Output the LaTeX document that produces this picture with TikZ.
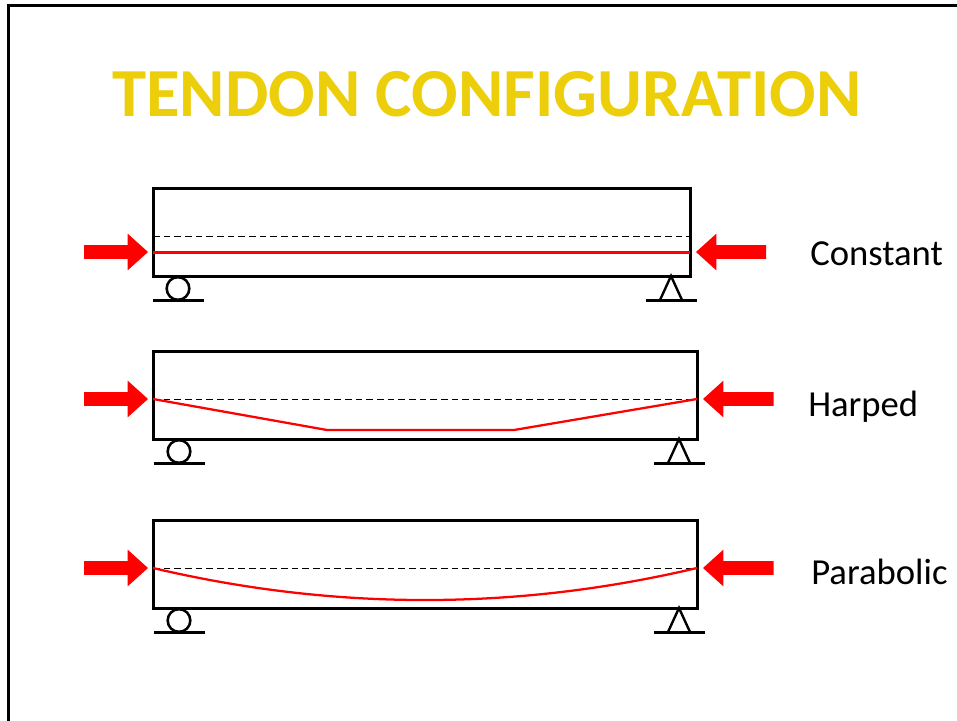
\documentclass[tikz,border=0pt]{standalone}
\usepackage{fontspec}
\setmainfont{Carlito}
\usetikzlibrary{shapes.arrows}
\definecolor{titleyellow}{RGB}{237,206,11}
\tikzset{
  beamnode/.style={draw,line width=2.25pt,rectangle,inner sep=0pt,outer sep=0pt,minimum height=66pt},
  forcenode/.style={single arrow,fill=red,anchor=tip,inner xsep=0pt,inner ysep=5pt,outer sep=0pt,minimum height=48pt,
    single arrow head extend=8.6pt,single arrow tip angle=84,single arrow head indent=0pt},
  rollernode/.style={draw,circle,line width=1.9pt,inner sep=0pt,outer sep=0pt,minimum size=17pt},
  ground/.style={line width=2.1pt},
  tendon/.style={red,line width=1.7pt},
  midline/.style={black,line width=0.7pt,dash pattern=on 5pt off 3pt},
  caption/.style={font=\fontsize{27.5}{33}\selectfont,text=black,anchor=base west,inner sep=0pt}
}
\begin{document}
\begin{tikzpicture}[x=0.75pt,y=-0.75pt]
  \useasboundingbox (0,0) rectangle (957,721);

  % Draw frame
  \draw[line width=2.2pt] (8.5,721) -- (8.5,5.5) -- (957,5.5);

  % Title
  \node[font=\fontsize{51.6}{60}\selectfont\bfseries,text=titleyellow,inner sep=0pt,anchor=base] (title) at (487,116) {TENDON CONFIGURATION};

  % Draw beams
  \node[beamnode,minimum width=402.75pt] (beamA) at (421.5,232) {};
  \node[beamnode,minimum width=408pt] (beamB) at (425,395) {};
  \node[beamnode,minimum width=408pt] (beamC) at (425,564) {};

  % Draw centre lines
  \draw[midline] (beamA.west |- 0,236) -- (beamA.east |- 0,236);
  \draw[midline] (beamB.west |- 0,399) -- (beamB.east |- 0,399);
  \draw[midline] (beamC.west |- 0,568) -- (beamC.east |- 0,568);

  % Draw tendons
  \coordinate (harpL) at (327,430);
  \coordinate (harpR) at (514,430);
  \draw[tendon,line width=2.25pt] (beamA.west |- 0,252) -- (beamA.east |- 0,252);
  \draw[tendon] (beamB.west |- 0,399) -- (harpL) -- (harpR) -- (beamB.east |- 0,399);
  \draw[tendon] (beamC.west |- 0,568) .. controls (334,610.7) and (516,610.7) .. (beamC.east |- 0,568);

  % Draw forces
  \node[forcenode] (forceAl) at (148,252) {};
  \node[forcenode,shape border rotate=180,minimum height=52.5pt] (forceAr) at (696,252) {};
  \node[forcenode] (forceBl) at (148,399) {};
  \node[forcenode,shape border rotate=180,minimum height=53pt] (forceBr) at (703,399) {};
  \node[forcenode] (forceCl) at (148,568) {};
  \node[forcenode,shape border rotate=180,minimum height=53pt] (forceCr) at (703,568) {};

  % Draw supports
  \foreach \n/\xr/\xp/\yb in {A/178/671/276,B/179/679/439,C/179/679/608} {
    \node[rollernode] (roller\n) at (\xr,\yb+12.5) {};
    \draw[ground] (\xr-25,\yb+24.5) -- (\xr+26,\yb+24.5);
    \draw[ground] (\xp-25,\yb+24.5) -- (\xp+26,\yb+24.5);
    \draw[line width=1.8pt,line join=miter] (\xp-11,\yb+24) -- (\xp,\yb) -- (\xp+11,\yb+24);
  }

  % Label beams
  \node[caption] (labelA) at (810,265) {Constant};
  \node[caption] (labelB) at (808,416) {Harped};
  \node[caption] (labelC) at (811,584) {Parabolic};
\end{tikzpicture}
\end{document}
